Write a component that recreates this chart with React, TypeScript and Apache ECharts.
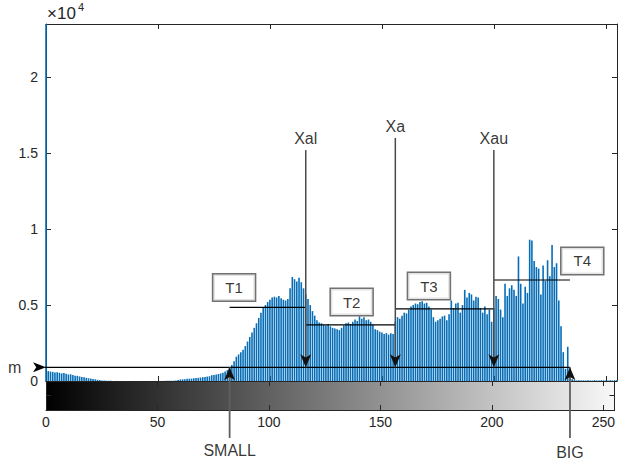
import React, { useEffect, useRef } from "react";
import * as echarts from "echarts";

// Gray levels 0..255 (histogram bins)
const grayLevels: number[] = Array.from({ length: 256 }, (_, i) => i);

// Pixel counts per gray level
const counts: number[] = [
  23500, 650, 620, 600, 560, 580, 540, 500, 520, 470, 430, 440, 390, 350, 340, 300,
  260, 250, 210, 180, 160, 130, 110, 80, 60, 40, 30, 20, 15, 10, 8, 5,
  4, 3, 3, 2, 2, 1, 0, 0, 0, 0, 0, 0, 0, 0, 0, 1,
  2, 3, 4, 5, 6, 8, 10, 12, 15, 20, 40, 60, 100, 110, 120, 140,
  150, 160, 180, 200, 210, 230, 250, 270, 290, 310, 380, 400, 430, 460, 500, 550,
  620, 720, 850, 1050, 1300, 1600, 1750, 1900, 2050, 2300, 2600, 2900, 3200, 3500, 3800, 4150,
  4500, 4800, 5000, 5200, 5350, 5500, 5550, 5500, 5600, 5450, 5350, 5300, 5400, 6100, 6850, 6700,
  6550, 6800, 6500, 6100, 5700, 5400, 5000, 4600, 4300, 4000, 3850, 3800, 3700, 3650, 3750, 3600,
  3500, 3450, 3400, 3350, 3500, 3650, 3800, 3850, 3750, 3900, 4050, 3950, 4250, 4100, 4200, 4000,
  4050, 3900, 3700, 3400, 3350, 3250, 3200, 3100, 3150, 3050, 3150, 3100, 3900, 4200, 4100, 4300,
  4500, 4450, 4700, 4900, 5000, 5100, 5050, 5200, 5250, 5100, 5150, 4900, 4700, 4200, 3900, 4000,
  4100, 4250, 4300, 4000, 4400, 5300, 4800, 5100, 5150, 4500, 5000, 6000, 5500, 5800, 5700, 5300,
  5550, 5500, 4800, 4500, 4900, 4400, 4700, 3900, 4800, 5600, 5400, 4700, 4200, 6400, 5600, 6100,
  6300, 6000, 5600, 8200, 6400, 5100, 6200, 5800, 9300, 9250, 7900, 7500, 7400, 5700, 7600, 6600,
  7950, 6900, 8950, 7500, 7750, 5300, 3600, 1900, 800, 2250, 300, 120, 60, 40, 50, 30,
  45, 35, 50, 40, 30, 55, 40, 35, 50, 45, 30, 40, 50, 35, 45, 60,
];

// Axis ticks
const xTicks: number[] = [0, 50, 100, 150, 200, 250];
const yTicks: number[] = [0, 5000, 10000, 15000, 20000];

// Annotations (data units)
const boundaryNames: string[] = ["SMALL", "Xal", "Xa", "Xau", "BIG"];
const boundaryX: number[] = [82, 116, 156, 200, 234];
const markerTop: number[] = [15200, 16000, 15200]; // tops of Xal, Xa, Xau lines
const belowAxisEnd = -3750; // lower end of SMALL / BIG leader lines
const mLevel = 900;
const mArrowStart = -9.5;
const thresholdNames: string[] = ["T1", "T2", "T3", "T4"];
const thresholdLevels: number[] = [4850, 3700, 4750, 6650];
const thresholdBoxX: number[] = [84, 136.5, 171, 239.5];
const thresholdBoxY: number[] = [6150, 5200, 6250, 7900];

const FONT = "'Liberation Sans', Arial, Helvetica, sans-serif";
const AX = "#262626";
const ARROW_UP = "path://M5,0L10,12L5,9L0,12Z";
const ARROW_DOWN = "path://M5,12L10,0L5,3L0,0Z";
const ARROW_RIGHT = "path://M12,5L0,10L3,5L0,0Z";

const mkTick = () => ({ show: true, inside: true, length: 5, lineStyle: { color: AX, width: 1 } });
const mkLine = () => ({ show: true, onZero: false, lineStyle: { color: AX, width: 1 } });

export default function App() {
  const ref = useRef<HTMLDivElement>(null);
  useEffect(() => {
    const chart = echarts.init(ref.current!, null, { renderer: "svg" });
    const mkX = (gridIndex: number, position: string, labels: boolean) => ({
      type: "value",
      gridIndex,
      position,
      min: 0,
      max: 255,
      interval: 50,
      splitLine: { show: false },
      axisLine: mkLine(),
      axisTick: mkTick(),
      axisLabel: labels
        ? {
            show: true,
            margin: 5,
            color: AX,
            fontSize: 14,
            fontFamily: FONT,
            formatter: (v: number) => (xTicks.includes(v) ? String(v) : ""),
          }
        : { show: false },
    });
    const mkY = (gridIndex: number, position: string, max: number, interval: number, labels: boolean) => ({
      type: "value",
      gridIndex,
      position,
      min: 0,
      max,
      interval,
      splitLine: { show: false },
      axisLine: mkLine(),
      axisTick: mkTick(),
      axisLabel: labels
        ? {
            show: true,
            margin: 8,
            color: AX,
            fontSize: 14,
            fontFamily: FONT,
            formatter: (v: number) => (yTicks.includes(v) ? String(v / 10000) : ""),
          }
        : { show: false },
    });

    const series: any[] = [
      {
        type: "bar",
        xAxisIndex: 0,
        yAxisIndex: 0,
        barWidth: 1.6,
        itemStyle: { color: "#066db6" },
        data: grayLevels.map((g, i) => [g, counts[i]]),
        z: 2,
      },
      // m line with arrow
      {
        type: "line",
        xAxisIndex: 0,
        yAxisIndex: 0,
        clip: false,
        symbol: "none",
        lineStyle: { color: "#000", width: 1.3 },
        itemStyle: { color: "#000" },
        data: [
          [mArrowStart, mLevel],
          { value: [0, mLevel], symbol: ARROW_RIGHT, symbolSize: [13, 10], symbolOffset: [-6.5, 0] },
          [boundaryX[4], mLevel],
        ],
        z: 4,
      },
    ];

    // Xal, Xa, Xau vertical markers
    [1, 2, 3].forEach((bi, k) => {
      series.push({
        type: "line",
        xAxisIndex: 0,
        yAxisIndex: 0,
        clip: false,
        symbol: "none",
        lineStyle: { color: "#4a4a4a", width: 1.5 },
        itemStyle: { color: "#111" },
        data: [
          [boundaryX[bi], markerTop[k]],
          { value: [boundaryX[bi], mLevel], symbol: ARROW_DOWN, symbolSize: [11, 13], symbolOffset: [0, -6.5] },
        ],
        z: 4,
      });
    });

    // SMALL, BIG leader lines
    [0, 4].forEach((bi) => {
      series.push({
        type: "line",
        xAxisIndex: 0,
        yAxisIndex: 0,
        clip: false,
        symbol: "none",
        lineStyle: { color: "#606060", width: 1.8 },
        itemStyle: { color: "#111" },
        data: [
          [boundaryX[bi], belowAxisEnd],
          { value: [boundaryX[bi], mLevel], symbol: ARROW_UP, symbolSize: [11, 13], symbolOffset: [0, 6.5] },
        ],
        z: 4,
      });
    });

    // Threshold levels T1..T4
    thresholdLevels.forEach((lv, k) => {
      series.push({
        type: "line",
        xAxisIndex: 0,
        yAxisIndex: 0,
        clip: false,
        symbol: "none",
        lineStyle: { color: "#000", width: 1.2 },
        data: [
          [boundaryX[k], lv],
          [boundaryX[k + 1], lv],
        ],
        z: 3,
      });
    });

    // Texts
    const textItems: any[] = [];
    [1, 2, 3].forEach((bi, k) => {
      textItems.push({
        value: [boundaryX[bi], markerTop[k]],
        label: { show: true, position: "top", distance: 3, formatter: boundaryNames[bi] },
      });
    });
    [0, 4].forEach((bi) => {
      textItems.push({
        value: [boundaryX[bi], belowAxisEnd],
        label: { show: true, position: "bottom", distance: bi === 0 ? 4 : 6, formatter: boundaryNames[bi] },
      });
    });
    textItems.push({
      value: [mArrowStart, mLevel],
      label: { show: true, position: "left", distance: 3, formatter: "m" },
    });
    thresholdNames.forEach((nm, k) => {
      textItems.push({
        value: [thresholdBoxX[k], thresholdBoxY[k]],
        label: {
          show: true,
          position: "inside",
          formatter: nm,
          fontSize: 15,
          borderColor: "#4d4d4d",
          borderWidth: 1.5,
          padding: [6, 12, 5, 12],
          backgroundColor: "#fff",
        },
      });
    });
    series.push({
      type: "scatter",
      xAxisIndex: 0,
      yAxisIndex: 0,
      clip: false,
      symbol: "circle",
      symbolSize: 1,
      itemStyle: { color: "rgba(0,0,0,0)" },
      label: { color: "#000", fontSize: 16, fontFamily: FONT },
      data: textItems,
      z: 6,
    });

    chart.setOption({
      animation: false,
      backgroundColor: "#fff",
      textStyle: { fontFamily: FONT },
      grid: [
        { left: 46, top: 24, width: 571, height: 357, show: false },
        {
          left: 46,
          top: 381,
          width: 571,
          height: 29,
          show: true,
          borderWidth: 0,
          backgroundColor: new echarts.graphic.LinearGradient(0, 0, 1, 0, [
            { offset: 0, color: "#000" },
            { offset: 1, color: "#f8f8f8" },
          ]),
        },
      ],
      xAxis: [mkX(0, "bottom", false), mkX(0, "top", false), mkX(1, "bottom", true), mkX(1, "top", false)],
      yAxis: [
        mkY(0, "left", 23500, 5000, true),
        mkY(0, "right", 23500, 5000, false),
        mkY(1, "left", 2, 1, false),
        mkY(1, "right", 2, 1, false),
      ],
      graphic: [
        { type: "text", left: 47, top: 5, style: { text: "×10", fontSize: 17, fontFamily: FONT, fill: AX } },
        { type: "text", left: 78, top: 1, style: { text: "4", fontSize: 11, fontFamily: FONT, fill: AX } },
      ],
      series,
    });
    return () => chart.dispose();
  }, []);
  return <div ref={ref} style={{ position: "absolute", left: 0, top: 0, width: 618, height: 464 }} />;
}
